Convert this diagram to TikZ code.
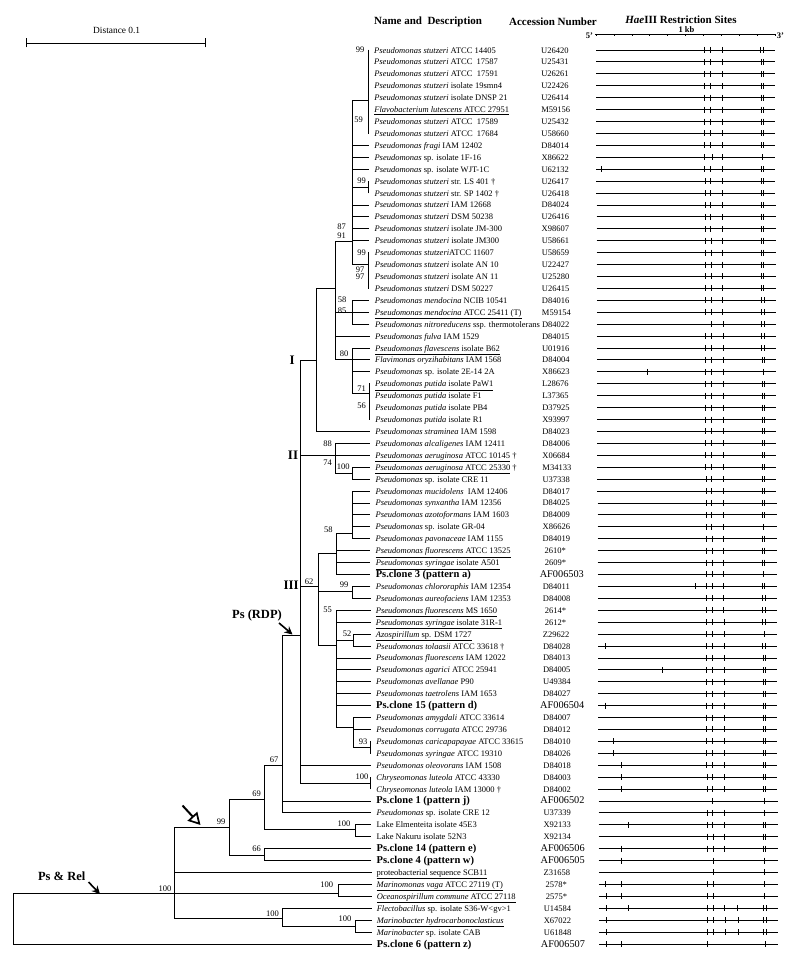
\documentclass[tikz,border=0pt]{standalone}
\usepackage{fontspec}
\setmainfont{Liberation Serif}
\usetikzlibrary{arrows.meta}
\newcommand\clonefont{\fontsize{10.5}{12}\selectfont\bfseries}
\tikzset{
 br/.style={line width=0.85pt, line cap=rect},
 lbl/.style={anchor=base west, inner sep=0pt, font=\fontsize{8.5}{10}\selectfont},
 acc/.style={anchor=base west, inner sep=0pt, font=\fontsize{8.5}{10}\selectfont},
 accs/.style={acc, xshift=2pt},
 accb/.style={anchor=base west, inner sep=0pt, xshift=-3pt, font=\fontsize{10.3}{12}\selectfont},
 bsv/.style={inner sep=0pt, font=\fontsize{8.5}{10}\selectfont},
 grp/.style={inner sep=0pt, anchor=east, font=\fontsize{13}{15}\selectfont\bfseries},
 hdr/.style={inner sep=0pt, font=\fontsize{11}{13}\selectfont\bfseries},
 rline/.style={line width=0.85pt},
 rtick/.style={line width=0.85pt},
}
\newcommand\taxon[4]{%
  \pgfmathsetmacro\ty{50+(#1-1)*11.92}%
  \pgfmathsetmacro\tdx{(#1-1)*0.036}%
  \pgfmathsetmacro\tipx{368+(#1-1)*0.045}%
  \coordinate (t#1) at (\tipx,\ty);
  \node[lbl] (L#1) at ({374+\tdx},{\ty+3}) {#2};
  \node[#4] (A#1) at ({541+\tdx},{\ty+3}) {#3};
}
\newcommand\rmap[2]{%
  \pgfmathsetmacro\ry{50+(#1-1)*11.92}%
  \pgfmathsetmacro\rd{(#1-1)*0.04}%
  \draw[rline] ({596+\rd},\ry) -- ({775+\rd},\ry);
  \foreach \q in {#2} {\draw[rtick] ({\q+\rd},{\ry-3}) -- ({\q+\rd},{\ry+3});}
}
\begin{document}
\begin{tikzpicture}[x=1pt,y=-1pt]
\useasboundingbox (0,0) rectangle (800,958);
\fill[white] (0,0) rectangle (800,958);

% headers
\node[hdr] (h1) at (428,21.7) {Name and\ \ Description};
\node[hdr] (h2) at (553,21.7) {Accession Number};
\node[hdr] (h3) at (681,20) {\textit{Hae}III Restriction Sites};

% distance bar
\coordinate (dA) at (26,43);
\coordinate (dB) at (205,43);
\draw[line width=0.75pt] (dA) -- (dB);
\draw[line width=0.75pt] ([yshift=-4.5pt]dA) -- ([yshift=4.5pt]dA);
\draw[line width=0.75pt] ([yshift=-4.5pt]dB) -- ([yshift=4.5pt]dB);
\node[inner sep=0pt, font=\fontsize{9.4}{11}\selectfont] (dist) at (116.7,30) {Distance 0.1};

% ruler
\draw[rline] (595,34.3) -- (775,34.3);
\foreach \k in {0,...,10} {\draw[line width=0.6pt] ({596+17.9*\k},34.3) -- ({596+17.9*\k},36.5);}
\node[inner sep=0pt, font=\fontsize{8.5}{10}\selectfont\bfseries] (r5) at (589.5,35.5) {5'};
\node[inner sep=0pt, font=\fontsize{8.5}{10}\selectfont\bfseries] (r3) at (780.5,35.5) {3'};
\node[inner sep=0pt, font=\fontsize{8.5}{10}\selectfont\bfseries] (rkb) at (686.5,29.3) {1 kb};

% taxa
\taxon{1}{\textit{Pseudomonas stutzeri} ATCC 14405}{U26420}{acc}
\taxon{2}{\textit{Pseudomonas stutzeri} ATCC\ \ 17587}{U25431}{acc}
\taxon{3}{\textit{Pseudomonas stutzeri} ATCC\ \ 17591}{U26261}{acc}
\taxon{4}{\textit{Pseudomonas stutzeri} isolate 19smn4}{U22426}{acc}
\taxon{5}{\textit{Pseudomonas stutzeri} isolate DNSP 21}{U26414}{acc}
\taxon{6}{\underline{\textit{Flavobacterium lutescens} ATCC 27951}}{M59156}{acc}
\taxon{7}{\textit{Pseudomonas stutzeri} ATCC\ \ 17589}{U25432}{acc}
\taxon{8}{\textit{Pseudomonas stutzeri} ATCC\ \ 17684}{U58660}{acc}
\taxon{9}{\textit{Pseudomonas fragi} IAM 12402}{D84014}{acc}
\taxon{10}{\textit{Pseudomonas} sp. isolate 1F-16}{X86622}{acc}
\taxon{11}{\textit{Pseudomonas} sp. isolate WJT-1C}{U62132}{acc}
\taxon{12}{\textit{Pseudomonas stutzeri} str. LS 401 \textdagger}{U26417}{acc}
\taxon{13}{\textit{Pseudomonas stutzeri} str. SP 1402 \textdagger}{U26418}{acc}
\taxon{14}{\textit{Pseudomonas stutzeri} IAM 12668}{D84024}{acc}
\taxon{15}{\textit{Pseudomonas stutzeri} DSM 50238}{U26416}{acc}
\taxon{16}{\textit{Pseudomonas stutzeri} isolate JM-300}{X98607}{acc}
\taxon{17}{\textit{Pseudomonas stutzeri} isolate JM300}{U58661}{acc}
\taxon{18}{\textit{Pseudomonas stutzeri}ATCC 11607}{U58659}{acc}
\taxon{19}{\textit{Pseudomonas stutzeri} isolate AN 10}{U22427}{acc}
\taxon{20}{\textit{Pseudomonas stutzeri} isolate AN 11}{U25280}{acc}
\taxon{21}{\textit{Pseudomonas stutzeri} DSM 50227}{U26415}{acc}
\taxon{22}{\textit{Pseudomonas mendocina} NCIB 10541}{D84016}{acc}
\taxon{23}{\underline{\textit{Pseudomonas mendocina} ATCC 25411 (T)}}{M59154}{acc}
\taxon{24}{\textit{Pseudomonas nitroreducens} ssp. thermotolerans}{D84022}{acc}
\taxon{25}{\textit{Pseudomonas fulva} IAM 1529}{D84015}{acc}
\taxon{26}{\underline{\textit{Pseudomonas flavescens} isolate B62}}{U01916}{acc}
\taxon{27}{\textit{Flavimonas oryzihabitans} IAM 1568}{D84004}{acc}
\taxon{28}{\textit{Pseudomonas} sp. isolate 2E-14 2A}{X86623}{acc}
\taxon{29}{\underline{\textit{Pseudomonas putida} isolate PaW1}}{L28676}{acc}
\taxon{30}{\textit{Pseudomonas putida} isolate F1}{L37365}{acc}
\taxon{31}{\textit{Pseudomonas putida} isolate PB4}{D37925}{acc}
\taxon{32}{\textit{Pseudomonas putida} isolate R1}{X93997}{acc}
\taxon{33}{\textit{Pseudomonas straminea} IAM 1598}{D84023}{acc}
\taxon{34}{\textit{Pseudomonas alcaligenes} IAM 12411}{D84006}{acc}
\taxon{35}{\underline{\textit{Pseudomonas aeruginosa} ATCC 10145} \textdagger}{X06684}{acc}
\taxon{36}{\underline{\textit{Pseudomonas aeruginosa} ATCC 25330} \textdagger}{M34133}{acc}
\taxon{37}{\textit{Pseudomonas} sp. isolate CRE 11}{U37338}{acc}
\taxon{38}{\textit{Pseudomonas mucidolens}\ \ IAM 12406}{D84017}{acc}
\taxon{39}{\textit{Pseudomonas synxantha} IAM 12356}{D84025}{acc}
\taxon{40}{\textit{Pseudomonas azotoformans} IAM 1603}{D84009}{acc}
\taxon{41}{\textit{Pseudomonas} sp. isolate GR-04}{X86626}{acc}
\taxon{42}{\textit{Pseudomonas pavonaceae} IAM 1155}{D84019}{acc}
\taxon{43}{\underline{\textit{Pseudomonas fluorescens} ATCC 13525}}{2610*}{accs}
\taxon{44}{\underline{\textit{Pseudomonas syringae} isolate A501}}{2609*}{accs}
\taxon{45}{\clonefont Ps.clone 3 (pattern a)}{AF006503}{accb}
\taxon{46}{\textit{Pseudomonas chlororaphis} IAM 12354}{D84011}{acc}
\taxon{47}{\textit{Pseudomonas aureofaciens} IAM 12353}{D84008}{acc}
\taxon{48}{\underline{\textit{Pseudomonas fluorescens} MS 1650}}{2614*}{accs}
\taxon{49}{\underline{\textit{Pseudomonas syringae} isolate 31R-1}}{2612*}{accs}
\taxon{50}{\underline{\textit{Azospirillum} sp. DSM 1727}}{Z29622}{acc}
\taxon{51}{\textit{Pseudomonas tolaasii} ATCC 33618 \textdagger}{D84028}{acc}
\taxon{52}{\textit{Pseudomonas fluorescens} IAM 12022}{D84013}{acc}
\taxon{53}{\textit{Pseudomonas agarici} ATCC 25941}{D84005}{acc}
\taxon{54}{\textit{Pseudomonas avellanae} P90}{U49384}{acc}
\taxon{55}{\textit{Pseudomonas taetrolens} IAM 1653}{D84027}{acc}
\taxon{56}{\clonefont Ps.clone 15 (pattern d)}{AF006504}{accb}
\taxon{57}{\textit{Pseudomonas amygdali} ATCC 33614}{D84007}{acc}
\taxon{58}{\textit{Pseudomonas corrugata} ATCC 29736}{D84012}{acc}
\taxon{59}{\textit{Pseudomonas caricapapayae} ATCC 33615}{D84010}{acc}
\taxon{60}{\textit{Pseudomonas syringae} ATCC 19310}{D84026}{acc}
\taxon{61}{\textit{Pseudomonas oleovorans} IAM 1508}{D84018}{acc}
\taxon{62}{\textit{Chryseomonas luteola} ATCC 43330}{D84003}{acc}
\taxon{63}{\textit{Chryseomonas luteola} IAM 13000 \textdagger}{D84002}{acc}
\taxon{64}{\clonefont Ps.clone 1 (pattern j)}{AF006502}{accb}
\taxon{65}{\textit{Pseudomonas} sp. isolate CRE 12}{U37339}{acc}
\taxon{66}{Lake Elmenteita isolate 45E3}{X92133}{acc}
\taxon{67}{Lake Nakuru isolate 52N3}{X92134}{acc}
\taxon{68}{\clonefont Ps.clone 14 (pattern e)}{AF006506}{accb}
\taxon{69}{\clonefont Ps.clone 4 (pattern w)}{AF006505}{accb}
\taxon{70}{\underline{proteobacterial sequence SCB11}}{Z31658}{acc}
\taxon{71}{\underline{\textit{Marinomonas vaga} ATCC 27119 (T)}}{2578*}{accs}
\taxon{72}{\underline{\textit{Oceanospirillum commune} ATCC 27118}}{2575*}{accs}
\taxon{73}{\textit{Flectobacillus} sp. isolate S36-W<gv>1}{U14584}{acc}
\taxon{74}{\underline{\textit{Marinobacter hydrocarbonoclasticus}}}{X67022}{acc}
\taxon{75}{\textit{Marinobacter} sp. isolate CAB}{U61848}{acc}
\taxon{76}{\clonefont Ps.clone 6 (pattern z)}{AF006507}{accb}

% internal nodes
\coordinate (b18) at (368,100);
\coordinate (b1213) at (368.5,187);
\coordinate (b1821) at (368.8,264);
\coordinate (b2932) at (369.3,393);
\coordinate (b5960) at (370.6,747);
\coordinate (b6263) at (370.8,783);
\coordinate (nstz) at (352,241);
\coordinate (nmen) at (352,312);
\coordinate (n80) at (352,359.92);
\coordinate (nP) at (335,288);
\coordinate (nI) at (316.7,360);
\coordinate (nII) at (335,455.28);
\coordinate (n3637) at (352.7,473);
\coordinate (n3842) at (352.7,533);
\coordinate (nG) at (336.7,553);
\coordinate (n4647) at (352.7,591);
\coordinate (n5051) at (353.3,640);
\coordinate (n5760) at (353.3,727);
\coordinate (n55) at (336.7,645);
\coordinate (nIII) at (318.3,586);
\coordinate (nJ) at (300,635);
\coordinate (nK) at (282.7,765.2);
\coordinate (n6667) at (355,829.3);
\coordinate (nL) at (264,799);
\coordinate (n6869) at (264,855);
\coordinate (nM) at (229.3,827.7);
\coordinate (n7172) at (338.3,893);
\coordinate (n7475) at (355,926.7);
\coordinate (n7375) at (282.7,918.3);
\coordinate (nN) at (174,893);
\coordinate (root) at (13.3,920);

% tree
\draw[br] (t1) -- (t1 |- t8);
\draw[br] (t12) -- (t12 |- t13);
\draw[br] (t18) -- (t18 |- t21);
\draw[br] (t29) -- (t29 |- t32);
\draw[br] (t59) -- (t59 |- t60);
\draw[br] (t62) -- (t62 |- t63);
\draw[br] (nstz) |- (b18) (nstz) |- (t9) (nstz) |- (t10) (nstz) |- (t11) (nstz) |- (b1213)
  (nstz) |- (t14) (nstz) |- (t15) (nstz) |- (t16) (nstz) |- (t17) (nstz) |- (b1821);
\draw[br] (nmen) |- (t22) (nmen) |- (t23) (nmen) |- (t24);
\draw[br] (n80) |- (t26) (n80) |- (t27) (n80) |- (t28) (n80) |- (b2932);
\draw[br] (nP) |- (nstz) (nP) |- (nmen) (nP) |- (t25) (nP) |- (n80);
\draw[br] (nI) |- (nP) (nI) |- (t33);
\draw[br] (nII) |- (t34) (nII) |- (t35) (nII) |- (n3637);
\draw[br] (n3637) |- (t36) (n3637) |- (t37);
\draw[br] (n3842) |- (t38) (n3842) |- (t39) (n3842) |- (t40) (n3842) |- (t41) (n3842) |- (t42);
\draw[br] (nG) |- (n3842) (nG) |- (t43) (nG) |- (t44) (nG) |- (t45);
\draw[br] (n4647) |- (t46) (n4647) |- (t47);
\draw[br] (n5051) |- (t50) (n5051) |- (t51);
\draw[br] (n5760) |- (t57) (n5760) |- (t58) (n5760) |- (b5960);
\draw[br] (n55) |- (t48) (n55) |- (t49) (n55) |- (n5051) (n55) |- (t52) (n55) |- (t53)
  (n55) |- (t54) (n55) |- (t55) (n55) |- (t56) (n55) |- (n5760);
\draw[br] (nIII) |- (nG) (nIII) |- (n4647) (nIII) |- (n55);
\draw[br] (nJ) |- (nI) (nJ) |- (nII) (nJ) |- (nIII) (nJ) |- (t61) (nJ) |- (b6263);
\draw[br] (nK) |- (nJ) (nK) |- (t64) (nK) |- (t65);
\draw[br] (n6667) |- (t66) (n6667) |- (t67);
\draw[br] (nL) |- (nK) (nL) |- (n6667);
\draw[br] (n6869) |- (t68) (n6869) |- (t69);
\draw[br] (nM) |- (nL) (nM) |- (n6869);
\draw[br] (n7172) |- (t71) (n7172) |- (t72);
\draw[br] (n7475) |- (t74) (n7475) |- (t75);
\draw[br] (n7375) |- (t73) (n7375) |- (n7475);
\draw[br] (nN) |- (nM) (nN) |- (t70) (nN) |- (n7172) (nN) |- (n7375);
\draw[br] (root) |- (nN) (root) |- (t76);

% bootstrap values
\node[bsv] (s1) at (360,50) {99};
\node[bsv] (s2) at (358.5,119.5) {59};
\node[bsv] (s3) at (361.5,180.7) {99};
\node[bsv] (s4) at (341.5,226.7) {87};
\node[bsv] (s5) at (341.5,236) {91};
\node[bsv] (s6) at (361.5,252.7) {99};
\node[bsv] (s7) at (360,269.3) {97};
\node[bsv] (s8) at (360,276.7) {97};
\node[bsv] (s9) at (342,299.3) {58};
\node[bsv] (s10) at (342,310.7) {85};
\node[bsv] (s11) at (344,353.3) {80};
\node[bsv] (s12) at (361.5,388.3) {71};
\node[bsv] (s13) at (361.5,406) {56};
\node[bsv] (s14) at (327.5,443.3) {88};
\node[bsv] (s15) at (327.5,462.7) {74};
\node[bsv] (s16) at (343.3,466.7) {100};
\node[bsv] (s17) at (328.3,530) {58};
\node[bsv] (s18) at (309,581.7) {62};
\node[bsv] (s19) at (344,585) {99};
\node[bsv] (s20) at (327.5,609.3) {55};
\node[bsv] (s21) at (347,633.3) {52};
\node[bsv] (s22) at (363,741.7) {93};
\node[bsv] (s23) at (362,776.7) {100};
\node[bsv] (s24) at (274,760) {67};
\node[bsv] (s25) at (256.7,793.3) {69};
\node[bsv] (s26) at (344,823.3) {100};
\node[bsv] (s27) at (256.7,848.3) {66};
\node[bsv] (s28) at (221,821.7) {99};
\node[bsv] (s29) at (326.7,885) {100};
\node[bsv] (s30) at (272.5,913.3) {100};
\node[bsv] (s31) at (345,919) {100};
\node[bsv] (s32) at (165,888.3) {100};

% group labels
\node[grp] (gI) at (295,360) {I};
\node[grp] (gII) at (298.3,455) {II};
\node[grp] (gIII) at (299,585.7) {III};
\node[inner sep=0pt, font=\fontsize{12.5}{14}\selectfont\bfseries] (gRDP) at (257,615) {Ps (RDP)};
\node[inner sep=0pt, font=\fontsize{12.5}{14}\selectfont\bfseries] (gRel) at (61.7,876.7) {Ps \& Rel};

% arrows
\coordinate (aRa) at (279,623);
\coordinate (aRb) at (292.5,634.5);
\draw[line width=1.6pt,-{Stealth[length=8pt,width=8pt]}] (aRa) -- (aRb);
\coordinate (aPa) at (88.5,882);
\coordinate (aPb) at (100,894);
\draw[line width=1.6pt,-{Stealth[length=8pt,width=8pt]}] (aPa) -- (aPb);
\coordinate (aHa) at (182.5,805.5);
\coordinate (aHb) at (200.5,825);
\draw[line width=2pt,-{Triangle[open,length=12pt,width=13pt,line width=1.7pt]}] (aHa) -- (aHb);

% restriction maps
\foreach \r in {1,...,9,12,13,14,15,16,17,18,19,20,21,22,23,25,26,27,29,30,31,32,33,34,35,36,37,38,39,40,42,43,44,47,48,49,52,54,55,57,58,67}
  {\rmap{\r}{704.5,710.3,722,760.9,763.1}}
\foreach \r in {41,45,50,65} {\rmap{\r}{704.5,710.3,722,762}}
\rmap{10}{704.5,712,722,762}
\rmap{11}{601.3,704.5,710.3,722,760.9,763.1}
\rmap{24}{710.3,722,760.9,763.1}
\rmap{28}{646.6,704.5,710.3,722,762}
\rmap{46}{693.2,704.5,710.3,722,760.9,763.1}
\foreach \r in {51,56} {\rmap{\r}{603.7,704.5,710.3,722,760.9,763.1}}
\rmap{53}{660.2,704.5,710.3,722,760.9,763.1}
\foreach \r in {59,60} {\rmap{\r}{611.4,704.5,710.3,722,760.9,763.1}}
\foreach \r in {61,62,63} {\rmap{\r}{618.6,704.5,710.3,722,760.9,763.1}}
\rmap{64}{710.3,762}
\rmap{66}{625.7,704.5,710.3,722,760.9,763.1}
\rmap{68}{618.3,704.5,710.3,722,760.9,763.1}
\rmap{69}{618.6,710.3,762}
\rmap{70}{710.3,762}
\foreach \r in {71,72} {\rmap{\r}{603.1,618.8,704.5,710.3,762}}
\rmap{73}{603.1,625.4,704.5,710.3,722,735,760.9,763.1}
\foreach \r in {74,75} {\rmap{\r}{603.1,704.5,710.3,722,735,760.9,763.1}}
\rmap{76}{603.1,618.8,704.5,762}
\end{tikzpicture}
\end{document}
